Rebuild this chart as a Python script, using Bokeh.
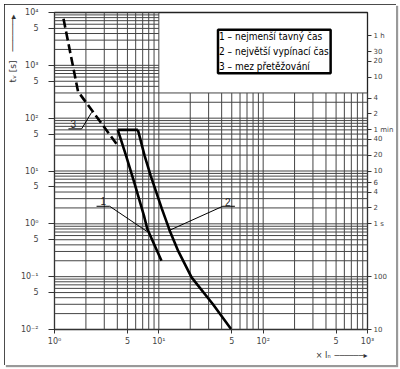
from bokeh.plotting import figure
from bokeh.models import Range1d, FixedTicker, LogAxis, Label, Title
from bokeh.core.properties import value
from bokeh.embed import file_html
from bokeh.resources import INLINE

# ---------------- data ----------------
x_ticks = [1, 5, 10, 50, 100, 500, 1000]
x_tick_labels = ["10⁰", "5", "10¹", "5", "10²", "5", "10³"]
y_ticks = [0.01, 0.05, 0.1, 0.5, 1, 5, 10, 50, 100, 500, 1000, 5000, 10000]
y_tick_labels = ["10⁻²", "5", "10⁻¹", "5", "10⁰", "5", "10¹", "5", "10²", "5", "10³", "5", "10⁴"]
r_ticks = [3600, 1800, 1200, 600, 240, 120, 60, 40, 20, 10, 6, 4, 2, 1, 0.1, 0.01]
r_tick_labels = ["1 h", "30", "20", "10", "4", "2", "1 min", "40", "20", "10", "6", "4", "2", "1 s", "100", "10"]

# curve 1 - nejmenší tavný čas
curve1_x = [4.04, 4.85, 5.81, 7.2, 7.76, 10.6]
curve1_y = [60, 19.6, 6.1, 1.43, 0.8, 0.2]
# curve 2 - největší vypínací čas
curve2_x = [6.3, 7.3, 8.35, 10.7, 12.9, 15.4, 20.6, 33, 49.2]
curve2_y = [60, 19.6, 8.2, 1.92, 0.69, 0.3, 0.097, 0.03, 0.0102]
# joint of curves 1 and 2 at the top
top_x = [4.04, 6.3]
top_y = [60, 60]
# curve 3 - mez přetěžování (dashed)
curve3_x = [1.22, 1.68, 4.0]
curve3_y = [7600, 320, 31]

# leader lines and their tags
leader1_x = [2.53, 3.38, 7.76]
leader1_y = [2.15, 2.15, 0.71]
leader2_x = [53.6, 41, 12.4]
leader2_y = [2.15, 2.15, 0.74]
leader3_x = [1.36, 1.82, 2.27]
leader3_y = [62.7, 62.7, 129]
tag_x = [2.93, 45.7, 1.51]
tag_y = [2.75, 2.55, 77]
tag_text = ["1", "2", "3"]

legend_lines = ["1 – nejmenší tavný čas", "2 – největší vypínací čas", "3 – mez přetěžování"]
y_title = "tᵥ [s]"
x_title = "× Iₙ"
arrow_text = "──────▸"

# grid is left out of the upper right part (legend area)
grid_split_x = 10
grid_split_y = 300

# ---------------- figure ----------------
p = figure(width=392, height=361, x_axis_type="log", y_axis_type="log",
           x_range=Range1d(1, 1000), y_range=Range1d(0.01, 10000),
           output_backend="svg", toolbar_location=None,
           min_border_left=50, min_border_right=24, min_border_top=8, min_border_bottom=36)
p.margin = (4, 0, 0, 4)
p.styles = {"outline": "2.5px solid #111", "outline-offset": "-2.5px",
            "box-shadow": "2px 2px 1px #999"}
p.xgrid.visible = False
p.ygrid.visible = False
p.background_fill_color = "white"
p.border_fill_color = "white"
p.outline_line_color = "#222"
p.outline_line_width = 1.3

gx = [k * 10.0 ** d for d in range(0, 3) for k in range(1, 10)] + [1000.0]
gy = [k * 10.0 ** d for d in range(-2, 4) for k in range(1, 10)] + [10000.0]
h_x0 = [1.0 for y in gy]
h_x1 = [grid_split_x if y > grid_split_y + 1e-9 else 1000.0 for y in gy]
v_y0 = [0.01 for x in gx]
v_y1 = [10000.0 if x <= grid_split_x + 1e-9 else grid_split_y for x in gx]
p.segment(x0=h_x0, y0=gy, x1=h_x1, y1=gy, line_color="#454545", line_width=1)
p.segment(x0=gx, y0=v_y0, x1=gx, y1=v_y1, line_color="#454545", line_width=1)

p.line(curve3_x, curve3_y, line_color="black", line_width=2.6, line_dash="9 4")
p.line(curve1_x, curve1_y, line_color="black", line_width=2.6)
p.line(curve2_x, curve2_y, line_color="black", line_width=2.6)
p.line(top_x, top_y, line_color="black", line_width=2.6)

for lx, ly in [(leader1_x, leader1_y), (leader2_x, leader2_y), (leader3_x, leader3_y)]:
    p.line(lx, ly, line_color="black", line_width=1)
p.text(x=tag_x, y=tag_y, text=tag_text, text_align="center", text_baseline="middle",
       text_font=value("Liberation Sans"), text_font_size="10px", text_color="#222")

# axes
tick_font = "DejaVu Sans"
ax = p.xaxis[0]
ax.ticker = FixedTicker(ticks=x_ticks)
ax.major_label_overrides = dict(zip(x_ticks, x_tick_labels))
ay = p.yaxis[0]
ay.ticker = FixedTicker(ticks=y_ticks)
ay.major_label_overrides = dict(zip(y_ticks, y_tick_labels))
ar = LogAxis(ticker=FixedTicker(ticks=r_ticks), major_label_overrides=dict(zip(r_ticks, r_tick_labels)))
p.add_layout(ar, "right")

for a in (ax, ay, ar):
    a.axis_line_color = None
    a.minor_tick_line_color = None
    a.major_tick_line_color = "#333"
    a.major_tick_in = 0
    a.major_label_text_font = tick_font
    a.major_label_text_color = "#444"
    a.major_label_text_font_size = "8px"
ax.major_tick_out = 4
ax.major_label_standoff = 3
ay.major_tick_out = 6
ay.major_label_standoff = 10
ar.major_tick_out = 4
ar.major_label_standoff = 2
ar.major_label_text_font_size = "7px"

# axis titles (with arrows) as side titles
p.add_layout(Title(text=y_title + "\u2002\u2002" + arrow_text, align="right", offset=2, standoff=0,
                   text_font=tick_font, text_font_size="9px", text_font_style="normal",
                   text_color="#333"), "left")
p.add_layout(Title(text=x_title + "\u2002" + arrow_text, align="right", offset=0, standoff=0,
                   text_font=tick_font, text_font_size="8px", text_font_style="normal",
                   text_color="#333"), "below")

# legend box
legend_font = "DejaVu Sans Condensed, DejaVu Sans, sans-serif"
p.add_layout(Label(x=163.5, y=278, x_units="screen", y_units="screen", text="\n".join(legend_lines),
                   text_align="left", text_baseline="middle", text_line_height=1.38,
                   text_font=legend_font, text_font_size="10px", text_color="black",
                   padding=(1, 2, 1, 1), border_line_color="black", border_line_width=2.5,
                   background_fill_color="white"))

open("out.html", "w", encoding="utf-8").write(file_html(p, INLINE))
